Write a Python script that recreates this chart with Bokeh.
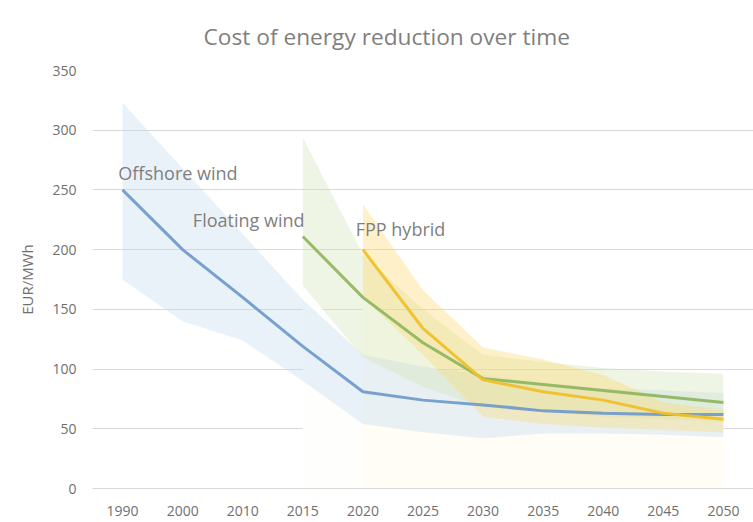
from bokeh.plotting import figure
from bokeh.models import Range1d, FixedTicker, Label
from bokeh.embed import file_html
from bokeh.resources import INLINE

# Years on the (evenly spaced) category axis
years = ["1990", "2000", "2010", "2015", "2020", "2025", "2030", "2035", "2040", "2045", "2050"]

# Offshore wind: central estimate and range, EUR/MWh
offshore_mid = [250, 200, 160, 119, 81, 74, 70, 65, 63, 62, 62]
offshore_low = [175, 140, 124, 90, 54, 47, 42, 46, 46, 45, 43]
offshore_high = [323, 268, 213, 158, 112, 102, 95, 88, 84, 82, 80]

# Floating wind (from 2015)
floating_years = ["2015", "2020", "2025", "2030", "2035", "2040", "2045", "2050"]
floating_mid = [211, 160, 122, 92, 87, 82, 77, 72]
floating_low = [170, 110, 85, 68, 64, 60, 58, 56]
floating_high = [294, 196, 150, 112, 106, 101, 98, 96]

# FPP hybrid (from 2020)
hybrid_years = ["2020", "2025", "2030", "2035", "2040", "2045", "2050"]
hybrid_mid = [200, 134, 91, 81, 74, 63, 58]
hybrid_low = [160, 112, 60, 54, 51, 49, 47]
hybrid_high = [238, 166, 118, 108, 95, 72, 66]

y_ticks = [0, 50, 100, 150, 200, 250, 300, 350]

FONT = "Open Sans"
GREY = "#7f7f7f"

pos = {y: i for i, y in enumerate(years)}


def xs(yrs):
    return [pos[y] for y in yrs]


p = figure(
    width=753, height=522,
    x_range=Range1d(-0.5, len(years) - 0.5),
    y_range=Range1d(0, 350),
    output_backend="svg", toolbar_location=None,
    min_border_left=92, min_border_right=0,
    min_border_top=70, min_border_bottom=34,
    title="Cost of energy reduction over time",
)
p.outline_line_color = None
p.background_fill_color = "white"
p.border_fill_color = "white"

# Title
p.title.align = "left"
p.title.offset = 111
p.title.standoff = 37
p.title.text_font = FONT
p.title.text_font_size = "22.7px"
p.title.text_font_style = "normal"
p.title.text_color = GREY

# Axes
p.xaxis.ticker = FixedTicker(ticks=list(range(len(years))))
p.xaxis.major_label_overrides = {i: y for i, y in enumerate(years)}
p.yaxis.ticker = FixedTicker(ticks=y_ticks)
for ax in (p.xaxis[0], p.yaxis[0]):
    ax.axis_line_color = None
    ax.major_tick_line_color = None
    ax.major_tick_out = 0
    ax.major_tick_in = 0
    ax.minor_tick_line_color = None
    ax.major_label_text_font = FONT
    ax.major_label_text_font_size = "14px"
    ax.major_label_text_color = "#6f6f6f"
p.xaxis.axis_line_color = "#d9d9d9"
p.xaxis.major_label_standoff = 17
p.yaxis.major_label_standoff = 16
p.yaxis.axis_label = "EUR/MWh"
p.yaxis.axis_label_text_font = FONT
p.yaxis.axis_label_text_font_size = "15px"
p.yaxis.axis_label_text_font_style = "normal"
p.yaxis.axis_label_text_color = "#6f6f6f"
p.yaxis.axis_label_standoff = 12

p.xgrid.grid_line_color = None
p.ygrid.grid_line_color = "#d9d9d9"
p.ygrid.grid_line_width = 1

# Stacked-area bases below each range (hide the grid under the later series)
p.varea(x=xs(floating_years), y1=[0] * len(floating_years), y2=floating_low,
        fill_color="#fefffd", fill_alpha=1.0)
p.varea(x=xs(hybrid_years), y1=[0] * len(hybrid_years), y2=hybrid_low,
        fill_color="#fffdf6", fill_alpha=1.0)

# Uncertainty ranges
p.varea(x=xs(years), y1=offshore_low, y2=offshore_high,
        fill_color="#c2d7ef", fill_alpha=0.36)
p.varea(x=xs(floating_years), y1=floating_low, y2=floating_high,
        fill_color="#cfe4b4", fill_alpha=0.36)
p.varea(x=xs(hybrid_years), y1=hybrid_low, y2=hybrid_high,
        fill_color="#fcd868", fill_alpha=0.36)

# Central estimates
p.line(xs(years), offshore_mid, line_color="#6b98cb", line_width=3, line_alpha=0.9)
p.line(xs(floating_years), floating_mid, line_color="#8db55a", line_width=3, line_alpha=0.9)
p.line(xs(hybrid_years), hybrid_mid, line_color="#f0c02a", line_width=3, line_alpha=0.95)

# Series labels
for text, x, y in [("Offshore wind", -0.07, 264.5),
                   ("Floating wind", 1.17, 224.5),
                   ("FPP hybrid", 3.88, 217.0)]:
    p.add_layout(Label(x=x, y=y, text=text, text_font=FONT, text_font_size="18px",
                       text_color=GREY, text_align="left", text_baseline="middle"))

open("out.html", "w").write(file_html(p, INLINE))
